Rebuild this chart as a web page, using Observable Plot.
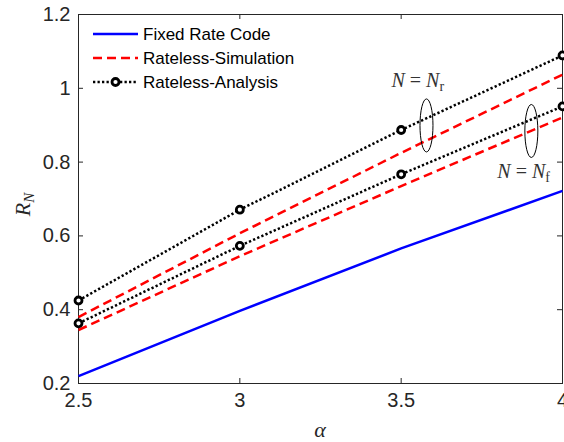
<!DOCTYPE html>
<html>
<head>
<meta charset="utf-8">
<script src="https://cdn.jsdelivr.net/npm/d3@7"></script>
<script src="https://cdn.jsdelivr.net/npm/@observablehq/plot@0.6"></script>
<style>
  html, body { margin: 0; padding: 0; background: #fff; }
  #chart { position: relative; width: 564px; height: 442px; }
</style>
</head>
<body>
<div id="chart"></div>
<script>
// ---- data ----
const alpha = [2.5, 3, 3.5, 4];
const fixedRate = [0.22, 0.397, 0.566, 0.722];
const simNr = [0.38, 0.607, 0.825, 1.037];
const simNf = [0.345, 0.545, 0.735, 0.921];
const anaNr = [0.425, 0.671, 0.887, 1.089];
const anaNf = [0.363, 0.573, 0.767, 0.951];
const xTicks = [2.5, 3, 3.5, 4];
const yTicks = [0.2, 0.4, 0.6, 0.8, 1, 1.2];
const legendLabels = ["Fixed Rate Code", "Rateless-Simulation", "Rateless-Analysis"];
// annotation groups: ellipse centre (alpha, R) and label
const groupAlpha = [3.58, 3.905];
const groupR = [0.898, 0.883];
const groupSub = ["r", "f"];

const rows = (ys, name) => alpha.map((a, i) => ({a, v: ys[i], name}));
const fixedData = rows(fixedRate, "fixed");
const simData = [...rows(simNr, "simNr"), ...rows(simNf, "simNf")];
const anaData = [...rows(anaNr, "anaNr"), ...rows(anaNf, "anaNf")];

const W = 564, H = 442, mL = 78, mR = 2, mT = 14, mB = 59;
const pw = W - mL - mR, ph = H - mT - mB;
const axisColor = "#262626";
const sans = "'Liberation Sans', Arial, Helvetica, sans-serif";
const serif = "'Liberation Serif', 'Times New Roman', serif";

const plot = Plot.plot({
  width: W, height: H,
  marginLeft: mL, marginRight: mR, marginTop: mT, marginBottom: mB,
  style: {fontFamily: sans, fontSize: "20px", color: axisColor, background: "#fff", overflow: "visible"},
  x: {domain: [2.5, 4], label: null},
  y: {domain: [0.2, 1.2], label: null},
  marks: [
    Plot.axisX(xTicks, {tickSize: 0, tickPadding: 9, tickFormat: d => String(d), fontSize: 20, fill: axisColor}),
    Plot.axisY(yTicks, {tickSize: 0, tickPadding: 8, tickFormat: d => String(+d.toFixed(1)), fontSize: 20, fill: axisColor}),
    // inward ticks on all four sides
    Plot.ruleX(xTicks, {x: d => d, insetTop: ph - 5, stroke: axisColor, strokeWidth: 1}),
    Plot.ruleX(xTicks, {x: d => d, insetBottom: ph - 5, stroke: axisColor, strokeWidth: 1}),
    Plot.ruleY(yTicks, {y: d => d, insetRight: pw - 5, stroke: axisColor, strokeWidth: 1}),
    Plot.ruleY(yTicks, {y: d => d, insetLeft: pw - 5, stroke: axisColor, strokeWidth: 1}),
    Plot.frame({stroke: axisColor, strokeWidth: 1}),
    Plot.line(fixedData, {x: "a", y: "v", stroke: "#0000ff", strokeWidth: 2.5, strokeLinecap: "butt"}),
    Plot.line(simData, {x: "a", y: "v", z: "name", stroke: "#ff0000", strokeWidth: 2.5, strokeDasharray: "9,5", strokeLinecap: "butt"}),
    Plot.line(anaData, {x: "a", y: "v", z: "name", stroke: "#000", strokeWidth: 2.5, strokeDasharray: "2.3,2.2", strokeLinecap: "butt"}),
    Plot.dot(anaData, {x: "a", y: "v", r: 3.5, stroke: "#000", strokeWidth: 2.8, fill: "#fff"})
  ]
});

document.getElementById("chart").appendChild(plot);

const svg = d3.select(plot);
const sx = plot.scale("x"), sy = plot.scale("y");

// annotation ellipses and labels
const labelPos = [
  {dx: -35, dy: -38},
  {dx: -34, dy: 47}
];
groupAlpha.forEach((a, i) => {
  const cx = sx.apply(a), cy = sy.apply(groupR[i]);
  svg.append("ellipse")
    .attr("cx", cx).attr("cy", cy).attr("rx", 6.5).attr("ry", 26.5)
    .attr("fill", "none").attr("stroke", "#000").attr("stroke-width", 1);
  const t = svg.append("text")
    .attr("x", cx + labelPos[i].dx).attr("y", cy + labelPos[i].dy)
    .attr("text-anchor", "start")
    .attr("font-family", serif).attr("font-size", 20).attr("fill", "#333");
  t.append("tspan").attr("font-style", "italic").text("N");
  t.append("tspan").text(" = ");
  t.append("tspan").attr("font-style", "italic").text("N");
  t.append("tspan").attr("font-size", 14).attr("dy", 4).text(groupSub[i]);
});

// axis labels
const yl = svg.append("text")
  .attr("transform", `translate(30,${mT + ph / 2 + 6}) rotate(-90)`)
  .attr("text-anchor", "middle")
  .attr("font-family", serif).attr("font-size", 22).attr("fill", axisColor);
yl.append("tspan").attr("font-style", "italic").text("R");
yl.append("tspan").attr("font-style", "italic").attr("font-size", 15).attr("dy", 4).text("N");

svg.append("text")
  .attr("x", mL + pw / 2).attr("y", H - 5)
  .attr("text-anchor", "middle")
  .attr("font-family", serif).attr("font-style", "italic").attr("font-size", 22).attr("fill", axisColor)
  .text("α");

// legend
const lg = svg.append("g").attr("transform", "translate(93,0)");
const rowsY = [34, 58, 82];
const styles = [
  {stroke: "#0000ff", dash: null, w: 2.5},
  {stroke: "#ff0000", dash: "9,5", w: 2.5},
  {stroke: "#000", dash: "2.3,2.2", w: 2.5}
];
legendLabels.forEach((lab, i) => {
  const y = rowsY[i];
  const l = lg.append("line").attr("x1", 0).attr("x2", 45).attr("y1", y).attr("y2", y)
    .attr("stroke", styles[i].stroke).attr("stroke-width", styles[i].w);
  if (styles[i].dash) l.attr("stroke-dasharray", styles[i].dash);
  if (i === 2) {
    lg.append("circle").attr("cx", 22.5).attr("cy", y).attr("r", 3.5)
      .attr("fill", "#fff").attr("stroke", "#000").attr("stroke-width", 2.8);
  }
  lg.append("text").attr("x", 50).attr("y", y).attr("dy", "0.35em")
    .attr("text-anchor", "start")
    .attr("font-family", sans).attr("font-size", 17).attr("fill", "#000").text(lab);
});
</script>
</body>
</html>
